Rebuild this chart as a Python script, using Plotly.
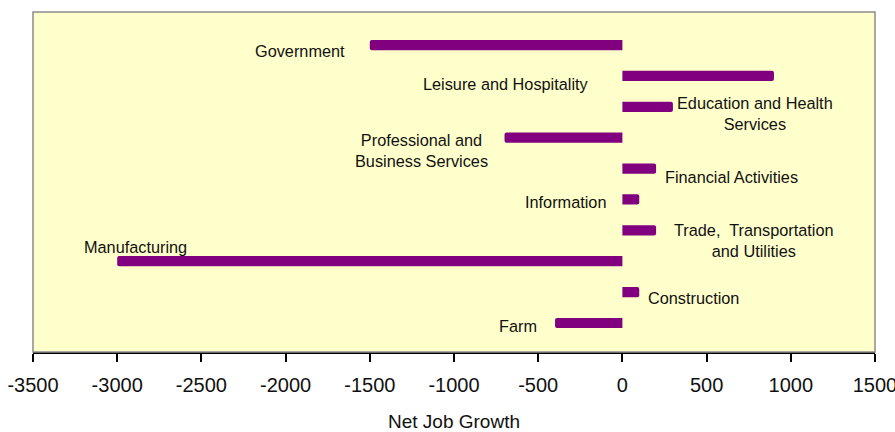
import plotly.graph_objects as go

# sectors listed bottom -> top
SECTORS = [
    "Farm",
    "Construction",
    "Manufacturing",
    "Trade,  Transportation<br>and Utilities",
    "Information",
    "Financial Activities",
    "Professional and<br>Business Services",
    "Education and Health<br>Services",
    "Leisure and Hospitality",
    "Government",
]
NET_GROWTH = [-400, 100, -3000, 200, 100, 200, -700, 300, 900, -1500]

X_TICKS = [-3500, -3000, -2500, -2000, -1500, -1000, -500, 0, 500, 1000, 1500]

# label placement: (x in data units, xanchor, pixel shift down)
LABEL_POS = [
    (-495, "right", 3),
    (139, "left", 6),
    (-2891, "center", -14),
    (294, "left", 10),
    (-85, "right", 3),
    (241, "left", 8),
    (-786, "right", 13),
    (311, "left", 7),
    (-188, "right", 8),
    (-1635, "right", 6),
]

FONT = "Liberation Sans, Arial, sans-serif"

fig = go.Figure()
fig.add_trace(
    go.Bar(
        x=NET_GROWTH,
        y=list(range(len(SECTORS))),
        orientation="h",
        width=0.33,
        marker=dict(color="#800080", line=dict(width=0), cornerradius=2),
        hoverinfo="skip",
        showlegend=False,
    )
)

for i, (name, (lx, anchor, shift)) in enumerate(zip(SECTORS, LABEL_POS)):
    fig.add_annotation(
        x=lx,
        y=i,
        text=name,
        showarrow=False,
        xanchor=anchor,
        yanchor="middle",
        align="center",
        yshift=-shift,
        font=dict(family=FONT, size=16.3, color="#111111"),
    )

# gray frame around the plot area
fig.add_shape(
    type="rect", xref="paper", yref="paper", x0=0, y0=0, x1=1, y1=1,
    line=dict(color="#8c8c8c", width=1.5), layer="above",
)

fig.update_layout(
    width=895,
    height=432,
    margin=dict(l=33, r=20, t=12, b=80, autoexpand=False),
    paper_bgcolor="white",
    plot_bgcolor="#FFFFCC",
    font=dict(family=FONT, color="#111111"),
    xaxis=dict(
        range=[-3500, 1500],
        tickvals=X_TICKS,
        ticktext=[str(v) for v in X_TICKS],
        automargin=False,
        ticklabeloverflow="allow",
        ticklabelstandoff=6,
        showgrid=False,
        zeroline=False,
        showline=True,
        linecolor="black",
        linewidth=2,
        ticks="outside",
        ticklen=8,
        tickwidth=2,
        tickcolor="black",
        tickfont=dict(family=FONT, size=20, color="#111111"),
        title=dict(text="Net Job Growth", font=dict(family=FONT, size=19, color="#111111"), standoff=20),
    ),
    yaxis=dict(
        range=[-0.94, 10.07],
        automargin=False,
        showgrid=False,
        zeroline=False,
        showticklabels=False,
        ticks="",
    ),
)

fig.write_html(
    "out.html",
    config={"displayModeBar": False},
    post_script="document.body.style.margin='0';document.body.style.overflow='hidden';",
)
